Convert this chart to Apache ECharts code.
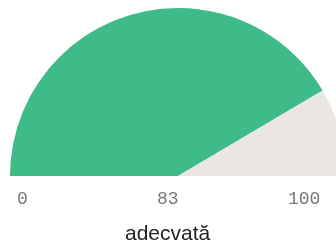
<!DOCTYPE html>
<html>
<head>
<meta charset="utf-8">
<script src="https://cdn.jsdelivr.net/npm/echarts@6/dist/echarts.min.js"></script>
<style>
  html, body { margin: 0; padding: 0; background: #fff; }
  #chart { width: 336px; height: 240px; }
</style>
</head>
<body>
<div id="chart"></div>
<script>
// gauge data
const minValue = 0
const maxValue = 100
const value = 83
const statusLabel = 'adecvată'
const colors = ['#3fbb8a', '#eae7e2']

const chart = echarts.init(document.getElementById('chart'))

const tickStyle = {
  fontFamily: 'Liberation Mono',
  fontSize: 18,
  fill: '#777'
}

const option = {
  animation: false,
  series: [
    {
      type: 'pie',
      center: [178, 176],
      radius: [0, 168],
      startAngle: 180,
      silent: true,
      label: { show: false },
      labelLine: { show: false },
      data: [
        { value: value - minValue, itemStyle: { color: colors[0] } },
        { value: maxValue - value, itemStyle: { color: colors[1] } },
        // hidden lower half
        { value: maxValue - minValue, itemStyle: { color: 'transparent' } }
      ]
    }
  ],
  graphic: [
    { type: 'text', left: 17, top: 190, style: Object.assign({ text: String(minValue) }, tickStyle) },
    { type: 'text', left: 157, top: 190, style: Object.assign({ text: String(value) }, tickStyle) },
    { type: 'text', left: 288, top: 190, style: Object.assign({ text: String(maxValue) }, tickStyle) },
    {
      type: 'text',
      left: 125,
      top: 224,
      style: { text: statusLabel, fontFamily: 'Liberation Sans', fontSize: 21, fill: '#222' }
    }
  ]
}

chart.setOption(option)
</script>
</body>
</html>
